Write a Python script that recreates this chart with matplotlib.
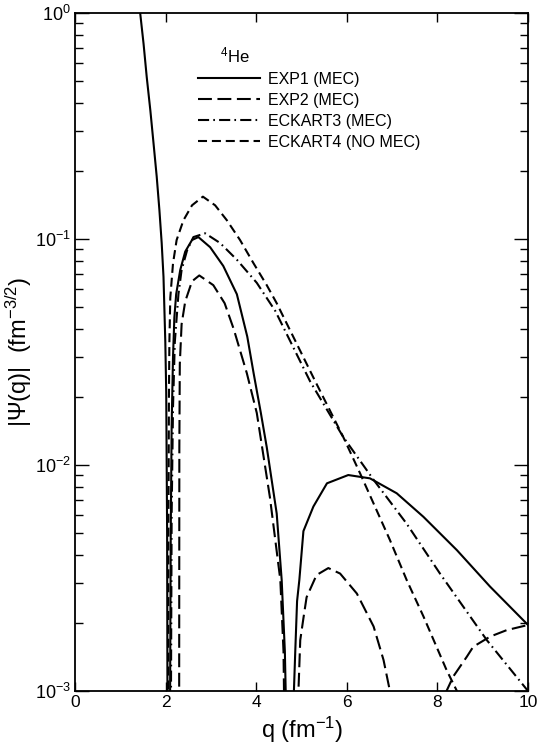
import numpy as np
import matplotlib
matplotlib.use('Agg')
import matplotlib.pyplot as plt

plt.rcParams['font.family'] = ['Liberation Sans', 'DejaVu Sans']
plt.rcParams['mathtext.default'] = 'regular'
plt.rcParams['lines.scale_dashes'] = False

# EXP1 (MEC) - solid, one array per lobe
exp1_q1 = [1.40, 1.435, 1.51, 1.58, 1.66, 1.73, 1.80, 1.86, 1.91, 1.95, 1.99, 2.01, 2.03, 2.04]
exp1_p1 = [1.3, 1.0, 0.73, 0.52, 0.37, 0.265, 0.189, 0.134, 0.096, 0.068, 0.035, 0.021, 0.005, 0.0005]
exp1_q2 = [2.09, 2.11, 2.13, 2.16, 2.19, 2.23, 2.32, 2.43, 2.58, 2.72, 2.98, 3.27, 3.57, 3.80, 3.94,
           4.10, 4.23, 4.45, 4.56, 4.63, 4.68]
exp1_p2 = [0.0005, 0.005, 0.015, 0.030, 0.045, 0.057, 0.073, 0.088, 0.099, 0.102, 0.092, 0.076, 0.057,
           0.037, 0.0255, 0.017, 0.012, 0.0061, 0.0031, 0.0015, 0.0005]
exp1_q3 = [4.81, 4.83, 4.86, 4.90, 4.95, 5.04, 5.26, 5.56, 6.03, 6.51, 7.10, 7.69, 8.43, 9.16, 10.0]
exp1_p3 = [0.0005, 0.0010, 0.0015, 0.0025, 0.0031, 0.0051, 0.00655, 0.0083, 0.00903, 0.00873, 0.0075,
           0.0059, 0.0042, 0.0029, 0.00196]

# EXP2 (MEC) - long dash
exp2_q1 = [2.295, 2.30, 2.31, 2.35, 2.43, 2.58, 2.74, 3.05, 3.30, 3.50, 3.79, 4.01, 4.30, 4.53, 4.60, 4.63]
exp2_p1 = [0.0005, 0.012, 0.028, 0.042, 0.053, 0.065, 0.069, 0.0625, 0.052, 0.040, 0.0255, 0.017, 0.0072,
           0.0031, 0.0015, 0.0005]
exp2_q2 = [4.91, 4.93, 4.97, 5.04, 5.11, 5.33, 5.59, 5.85, 6.22, 6.59, 6.81, 6.95, 6.98]
exp2_p2 = [0.0005, 0.0010, 0.00168, 0.0021, 0.0026, 0.00326, 0.0035, 0.00331, 0.0027, 0.00193, 0.00137,
           0.001, 0.0008]
exp2_q3 = [8.15, 8.20, 8.35, 8.65, 8.79, 9.16, 9.53, 10.0]
exp2_p3 = [0.0008, 0.001, 0.00116, 0.00142, 0.00157, 0.00174, 0.00186, 0.00196]

# ECKART3 (MEC) - dash dot
eck3_q = [2.11, 2.13, 2.16, 2.20, 2.28, 2.35, 2.47, 2.61, 2.87, 3.20, 3.57, 4.01, 4.42, 5.19, 5.92,
          6.59, 7.32, 8.06, 9.09, 10.0]
eck3_p = [0.0005, 0.006, 0.018, 0.035, 0.057, 0.073, 0.089, 0.102, 0.106, 0.096, 0.081, 0.064, 0.048,
          0.0234, 0.0133, 0.0086, 0.0055, 0.0033, 0.00168, 0.001]

# ECKART4 (NO MEC) - short dash
eck4_q = [2.05, 2.06, 2.07, 2.08, 2.10, 2.16, 2.24, 2.39, 2.58, 2.82, 3.09, 3.35, 3.64, 3.94, 4.23, 4.45,
          5.30, 5.92, 6.29, 6.95, 7.32, 7.69, 8.20, 8.43, 8.47]
eck4_p = [0.0005, 0.006, 0.020, 0.035, 0.055, 0.078, 0.099, 0.121, 0.141, 0.154, 0.141, 0.121, 0.099,
          0.078, 0.0625, 0.052, 0.0235, 0.0133, 0.0092, 0.00466, 0.0031, 0.00214, 0.00124, 0.001, 0.0008]

fig = plt.figure(figsize=(5.41, 7.44), dpi=100)
ax = fig.add_axes([0.139, 0.0712, 0.837, 0.9113])

lw = 1.5
ax.plot(exp1_q1, exp1_p1, color='black', lw=lw, label='EXP1 (MEC)')
ax.plot(exp1_q2, exp1_p2, color='black', lw=lw)
ax.plot(exp1_q3, exp1_p3, color='black', lw=lw)

long_dash = (0, (10, 4))
ax.plot(exp2_q1, exp2_p1, color='black', lw=lw, linestyle=long_dash, label='EXP2 (MEC)')
ax.plot(exp2_q2, exp2_p2, color='black', lw=lw, linestyle=long_dash)
ax.plot(exp2_q3, exp2_p3, color='black', lw=lw, linestyle=long_dash)

ax.plot(eck3_q, eck3_p, color='black', lw=lw, linestyle=(0, (8, 3, 1.2, 3)), label='ECKART3 (MEC)')
ax.plot(eck4_q, eck4_p, color='black', lw=lw, linestyle=(0, (6.5, 3.5)), label='ECKART4 (NO MEC)')

ax.set_yscale('log')
ax.set_xlim(0, 10)
ax.set_ylim(1e-3, 1)
ax.set_xticks([0, 2, 4, 6, 8, 10])
ax.tick_params(axis='x', which='major', direction='in', top=True, length=6.5, width=1, labelsize=12.5, pad=3)
ax.tick_params(axis='y', which='major', direction='in', right=True, length=10, width=1, labelsize=13, pad=3)
ax.tick_params(axis='y', which='minor', direction='in', right=True, length=6, width=1)
for s in ax.spines.values():
    s.set_linewidth(1.3)

ax.set_xlabel('q (fm$^{-1}$)', fontsize=17, labelpad=3)
ax.set_ylabel('|Ψ(q)|  (fm$^{-3/2}$)', fontsize=17, labelpad=1)

ax.text(0.32, 0.938, '$^{4}$He', transform=ax.transAxes, fontsize=12, va='center')
ax.legend(loc='upper left', bbox_to_anchor=(0.2715, 0.913), frameon=False, fontsize=11.5,
          handlelength=3.9, handletextpad=0.5, labelspacing=0.37, borderpad=0, borderaxespad=0)

fig.savefig('out.png', dpi=100)
